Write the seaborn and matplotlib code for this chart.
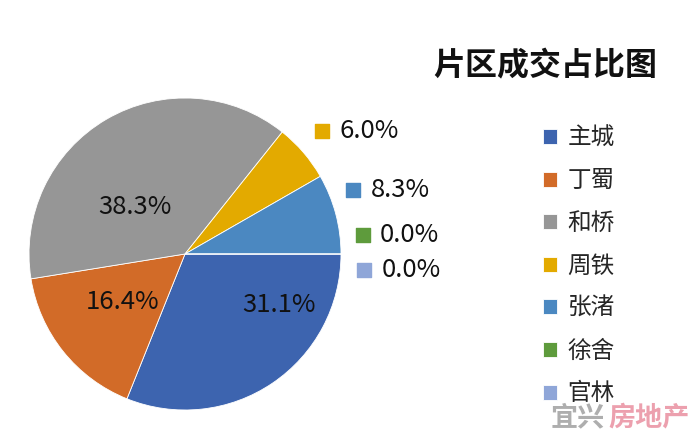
import numpy as np
import matplotlib
matplotlib.use("Agg")
import matplotlib.pyplot as plt
import seaborn as sns

# chart data
regions = ["主城", "丁蜀", "和桥", "周铁", "张渚", "徐舍", "官林"]
shares = [31.1, 16.4, 38.3, 6.0, 8.3, 0.0, 0.0]
colors = ["#3D64AF", "#D26B28", "#969696", "#E3AA00", "#4B88C1", "#5E9B3C", "#8FA6D8"]
title = "片区成交占比图"

sns.set_theme(style="white")
plt.rcParams["font.family"] = ["Noto Sans CJK SC", "DejaVu Sans"]

fig = plt.figure(figsize=(7, 4.46), dpi=100)
W, H = 700, 446
cx, cy, r = 185, 254, 156
ax = fig.add_axes([(cx - r) / W, (H - cy - r) / H, 2 * r / W, 2 * r / H])

palette = sns.color_palette(colors)
wedges, _ = ax.pie(shares, colors=palette, startangle=0, counterclock=False,
                   radius=1, wedgeprops=dict(edgecolor="white", linewidth=0.6))
ax.set_xlim(-1, 1)
ax.set_ylim(-1, 1)
ax.set_aspect("equal")
ax.axis("off")

# label placement: inside for big slices, outside with colour key for small ones
inside_pos = {0: (0.60, -0.33), 1: (-0.40, -0.31), 2: (-0.32, 0.30)}
outside_pos = {3: (0.88, 0.79), 4: (1.08, 0.41), 5: (1.14, 0.12), 6: (1.15, -0.10)}

for i, val in enumerate(shares):
    txt = f"{val:.1f}%"
    if i in inside_pos:
        x, y = inside_pos[i]
        ax.text(x, y, txt, ha="center", va="center", fontsize=18.5, color="#111111")
    else:
        x, y = outside_pos[i]
        ax.scatter([x], [y], marker="s", s=90, color=palette[i], clip_on=False)
        ax.text(x + 0.11, y, txt, ha="left", va="center", fontsize=18.5, color="#111111",
                clip_on=False)

fig.text(545 / W, 1 - 66 / H, title, ha="center", va="center", fontsize=23,
         fontweight="bold", color="#111111")

leg = fig.legend(wedges, regions, loc="upper left", bbox_to_anchor=(531 / W, 1 - 115 / H),
                 frameon=False, fontsize=17, handlelength=0.6, handleheight=0.6,
                 handletextpad=0.45, labelspacing=0.83, borderpad=0)

# watermark
fig.text(551 / W, 1 - 417 / H, "宜兴", ha="left", va="center", fontsize=19.5,
         fontweight="bold", color="#9a9a9a", alpha=0.8)
fig.text(608 / W, 1 - 417 / H, "房地产", ha="left", va="center", fontsize=19.5,
         fontweight="bold", color="#e8889a", alpha=0.8)

fig.savefig("out.png", dpi=100)
